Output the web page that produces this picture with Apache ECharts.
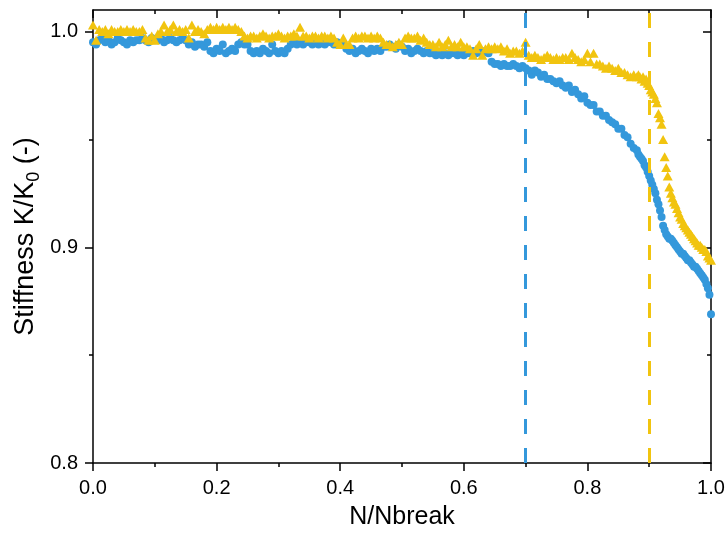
<!DOCTYPE html>
<html>
<head>
<meta charset="utf-8">
<script src="https://cdn.jsdelivr.net/npm/echarts@6/dist/echarts.min.js"></script>
<style>
  html, body { margin: 0; padding: 0; background: #fff; }
  #chart { width: 725px; height: 536px; }
</style>
</head>
<body>
<div id="chart"></div>
<script>
// N/Nbreak positions of the measurements
const ratio = [
  0, 0.005, 0.01, 0.015, 0.02, 0.025, 0.03, 0.035, 0.04, 0.045,
  0.05, 0.055, 0.06, 0.065, 0.07, 0.075, 0.08, 0.085, 0.09, 0.095,
  0.1, 0.105, 0.11, 0.115, 0.12, 0.125, 0.13, 0.135, 0.14, 0.145,
  0.15, 0.155, 0.16, 0.165, 0.17, 0.175, 0.18, 0.185, 0.19, 0.195,
  0.2, 0.205, 0.21, 0.215, 0.22, 0.225, 0.23, 0.235, 0.24, 0.245,
  0.25, 0.255, 0.26, 0.265, 0.27, 0.275, 0.28, 0.285, 0.29, 0.295,
  0.3, 0.305, 0.31, 0.315, 0.32, 0.325, 0.33, 0.335, 0.34, 0.345,
  0.35, 0.355, 0.36, 0.365, 0.37, 0.375, 0.38, 0.385, 0.39, 0.395,
  0.4, 0.405, 0.41, 0.415, 0.42, 0.425, 0.43, 0.435, 0.44, 0.445,
  0.45, 0.455, 0.46, 0.465, 0.47, 0.475, 0.48, 0.485, 0.49, 0.495,
  0.5, 0.505, 0.51, 0.515, 0.52, 0.525, 0.53, 0.535, 0.54, 0.545,
  0.55, 0.555, 0.56, 0.565, 0.57, 0.575, 0.58, 0.585, 0.59, 0.595,
  0.6, 0.605, 0.61, 0.615, 0.62, 0.625, 0.63, 0.635, 0.64, 0.645,
  0.65, 0.655, 0.66, 0.665, 0.67, 0.675, 0.68, 0.685, 0.69, 0.695,
  0.7, 0.705, 0.71, 0.715, 0.72, 0.725, 0.73, 0.735, 0.74, 0.745,
  0.75, 0.755, 0.76, 0.765, 0.77, 0.775, 0.78, 0.785, 0.79, 0.795,
  0.8, 0.805, 0.81, 0.815, 0.82, 0.825, 0.83, 0.835, 0.84, 0.845,
  0.85, 0.855, 0.86, 0.865, 0.87, 0.875, 0.88,
  0.8825, 0.885, 0.8875, 0.89, 0.8925, 0.895, 0.8975, 0.9,
  0.9025, 0.905, 0.9075, 0.91, 0.9125, 0.915, 0.9175, 0.92,
  0.9225, 0.925, 0.9275, 0.93, 0.9325, 0.935, 0.9375, 0.94,
  0.9425, 0.945, 0.9475, 0.95, 0.9525, 0.955, 0.9575, 0.96,
  0.9625, 0.965, 0.9675, 0.97, 0.9725, 0.975, 0.9775, 0.98,
  0.9825, 0.985, 0.9875, 0.99, 0.9925, 0.995, 0.9975, 1.0
];

// Stiffness K/K0 – blue circles
const stiffnessBlue = [
  0.995, 0.994, 0.996, 0.997, 0.995, 0.996, 0.994, 0.995, 0.997, 0.996, 0.995, 0.994, 0.996, 0.995, 0.996,
  0.996, 0.997, 0.996, 0.995, 0.997, 0.996, 0.996, 0.997, 0.995, 0.996, 0.997, 0.996, 0.995, 0.996, 0.997, 0.996,
  0.994, 0.995, 0.993, 0.994, 0.994, 0.993, 0.995,
  0.991, 0.990, 0.992, 0.991, 0.994, 0.990, 0.991, 0.992, 0.991,
  0.994, 0.995, 0.994,
  0.994, 0.991, 0.990, 0.991, 0.990, 0.992, 0.991, 0.990, 0.994, 0.991, 0.990, 0.991, 0.990, 0.992, 0.994,
  0.995, 0.994, 0.995, 0.994, 0.995, 0.995, 0.994, 0.995, 0.994, 0.995, 0.994, 0.995, 0.995, 0.994, 0.995, 0.994, 0.994,
  0.992, 0.991, 0.992, 0.990, 0.991, 0.992, 0.991, 0.990, 0.992, 0.991, 0.992, 0.991, 0.993,
  0.993, 0.994, 0.993, 0.992, 0.994, 0.993,
  0.991, 0.992, 0.990, 0.991, 0.992, 0.991, 0.990, 0.991, 0.990,
  0.990, 0.989, 0.990, 0.989, 0.990, 0.989, 0.990, 0.990, 0.989, 0.990, 0.989, 0.990, 0.990,
  0.991, 0.990, 0.991, 0.990, 0.991, 0.990,
  0.986, 0.985, 0.985, 0.984, 0.985, 0.984, 0.984, 0.985, 0.984, 0.983, 0.984, 0.983,
  0.982, 0.980, 0.982, 0.981, 0.979, 0.980, 0.978, 0.978, 0.977, 0.976,
  0.977, 0.975, 0.974, 0.975, 0.972, 0.973, 0.971, 0.969, 0.970, 0.967,
  0.966, 0.966, 0.963, 0.963, 0.961, 0.961, 0.959, 0.958, 0.957, 0.955,
  0.955, 0.952, 0.951, 0.948, 0.946, 0.945,
  0.943, 0.942, 0.941, 0.940, 0.938, 0.937, 0.935, 0.933,
  0.931, 0.929, 0.927, 0.925, 0.922, 0.920, 0.917, 0.914,
  0.910, 0.908, 0.906, 0.905, 0.904, 0.904, 0.903, 0.902,
  0.901, 0.900, 0.899, 0.898, 0.897, 0.897, 0.896, 0.895,
  0.894, 0.894, 0.893, 0.892, 0.891, 0.891, 0.890, 0.889,
  0.888, 0.887, 0.886, 0.885, 0.883, 0.881, 0.878, 0.869
];

// Stiffness K/K0 – yellow triangles
const stiffnessYellow = [
  1.003, 0.996, 1.001, 1.000, 1.001, 0.999, 1.001, 1.000, 1.000, 1.001, 1.000, 1.001, 1.000, 1.001, 1.000,
  1.000, 1.001, 0.997, 0.996, 0.998, 0.996, 0.999, 1.000, 1.003, 1.000, 1.001, 1.003, 1.000, 1.001, 1.000, 1.001,
  0.997, 1.003, 1.000, 1.001, 1.000, 0.999, 1.001, 1.002, 1.001, 1.002, 1.001, 1.002, 1.001, 1.002, 1.001, 1.002, 1.001, 1.000,
  0.998, 0.997, 0.998, 0.998, 0.997, 0.998, 0.999, 0.998, 0.997, 0.998, 0.998, 0.999, 0.998, 0.997, 0.998, 0.998, 0.999, 0.998, 1.002, 0.998,
  0.998, 0.997, 0.998, 0.998, 0.997, 0.998, 0.998, 0.997, 0.998, 0.997, 0.995, 0.994, 0.997, 0.994,
  0.994, 0.997, 0.998, 0.997, 0.998, 0.998, 0.997, 0.998, 0.997, 0.998, 0.997, 0.995, 0.994,
  0.994, 0.993, 0.994, 0.995, 0.994,
  0.997, 0.998, 0.997, 0.997, 0.998, 0.996, 0.997, 0.995, 0.994,
  0.994, 0.993, 0.995, 0.993, 0.994, 0.996, 0.993, 0.994, 0.993, 0.995, 0.993,
  0.993, 0.992, 0.989, 0.992, 0.994, 0.989, 0.992, 0.993, 0.992, 0.993, 0.992, 0.993,
  0.991, 0.992, 0.990, 0.991, 0.991, 0.990, 0.991, 0.995,
  0.989, 0.988, 0.989, 0.988, 0.987, 0.988, 0.989, 0.988, 0.987, 0.988, 0.987, 0.988, 0.988, 0.987, 0.990, 0.988,
  0.987, 0.986, 0.987, 0.990, 0.986, 0.990, 0.985, 0.985, 0.984, 0.983, 0.984, 0.983, 0.982, 0.983, 0.981,
  0.981, 0.980, 0.979, 0.980, 0.979,
  0.980, 0.979, 0.978, 0.979, 0.977, 0.978, 0.976, 0.975,
  0.973, 0.972, 0.971, 0.969, 0.967, 0.962, 0.960, 0.957,
  0.950, 0.942, 0.937, 0.933, 0.928, 0.925, 0.923, 0.921,
  0.920, 0.918, 0.916, 0.914, 0.913, 0.911, 0.910, 0.909,
  0.908, 0.907, 0.906, 0.905, 0.904, 0.903, 0.902, 0.901,
  0.901, 0.900, 0.899, 0.899, 0.898, 0.896, 0.895, 0.894
];

// vertical reference lines (N/Nbreak)
const blueThreshold = 0.7;
const yellowThreshold = 0.9;

// axis ticks
const xMin = 0, xMax = 1.0, xStep = 0.2;
const yMin = 0.8, yMax = 1.01;
const yMajorTicks = [0.8, 0.9, 1.0];
const yMinorTicks = [0.85, 0.95];

const BLUE = '#3498db';
const YELLOW = '#f1c40f';
const FONT = '"Liberation Sans", Arial, sans-serif';
const axisLineStyle = { color: '#000', width: 1.5 };

function pairs(xs, ys) { return xs.map((x, i) => [x, ys[i]]); }

const chart = echarts.init(document.getElementById('chart'), null, { renderer: 'canvas' });

const xBase = {
  type: 'value', min: xMin, max: xMax, interval: xStep,
  splitLine: { show: false },
  axisLine: { show: true, onZero: false, lineStyle: axisLineStyle },
  minorTick: { show: true, splitNumber: 2, length: 4, lineStyle: axisLineStyle },
  minorSplitLine: { show: false }
};
const yBase = {
  type: 'value', min: yMin, max: yMax,
  splitLine: { show: false }
};

chart.setOption({
  animation: false,
  backgroundColor: '#fff',
  textStyle: { fontFamily: FONT },
  grid: { left: 93, right: 14, top: 10, bottom: 73, containLabel: false, outerBoundsMode: 'none' },
  xAxis: [
    Object.assign({}, xBase, {
      position: 'bottom',
      axisTick: { show: true, inside: false, length: 8, lineStyle: axisLineStyle },
      axisLabel: { show: true, fontSize: 20, color: '#000', margin: 15, fontFamily: FONT,
                   formatter: v => v.toFixed(1) },
      name: 'N/Nbreak', nameLocation: 'middle', nameGap: 42,
      nameTextStyle: { fontSize: 25, color: '#000', fontFamily: FONT }
    }),
    Object.assign({}, xBase, {
      position: 'top',
      axisTick: { show: true, inside: true, length: 8, lineStyle: axisLineStyle },
      axisLabel: { show: false }
    })
  ],
  yAxis: [
    Object.assign({}, yBase, {
      position: 'left',
      axisLine: { show: true, onZero: false, lineStyle: axisLineStyle },
      axisTick: { show: true, inside: false, length: 8, customValues: yMajorTicks, lineStyle: axisLineStyle },
      axisLabel: { show: true, customValues: yMajorTicks, fontSize: 20, color: '#000', margin: 15,
                   fontFamily: FONT, formatter: v => v.toFixed(1) },
      name: 'Stiffness K/K{sub|0} (-)', nameLocation: 'middle', nameGap: 50, nameRotate: 90,
      nameMoveOverlap: false,
      nameTextStyle: { fontSize: 27, color: '#000', fontFamily: FONT, lineHeight: 35,
        rich: { sub: { fontSize: 18, lineHeight: 18, verticalAlign: 'bottom', color: '#000', fontFamily: FONT } } }
    }),
    Object.assign({}, yBase, {
      position: 'left',
      axisLine: { show: false, onZero: false },
      axisTick: { show: true, inside: false, length: 4, customValues: yMinorTicks, lineStyle: axisLineStyle },
      axisLabel: { show: false }
    }),
    Object.assign({}, yBase, {
      position: 'right',
      axisLine: { show: true, onZero: false, lineStyle: axisLineStyle },
      axisTick: { show: true, inside: true, length: 8, customValues: yMajorTicks, lineStyle: axisLineStyle },
      axisLabel: { show: false }
    }),
    Object.assign({}, yBase, {
      position: 'right',
      axisLine: { show: false, onZero: false },
      axisTick: { show: true, inside: true, length: 4, customValues: yMinorTicks, lineStyle: axisLineStyle },
      axisLabel: { show: false }
    })
  ],
  series: [
    {
      type: 'scatter', xAxisIndex: 0, yAxisIndex: 0,
      data: pairs(ratio, stiffnessBlue),
      symbol: 'circle', symbolSize: 8,
      itemStyle: { color: BLUE, opacity: 1 },
      emphasis: { disabled: true },
      z: 2
    },
    {
      type: 'scatter', xAxisIndex: 0, yAxisIndex: 0,
      data: pairs(ratio, stiffnessYellow),
      symbol: 'triangle', symbolSize: [10, 9],
      itemStyle: { color: YELLOW, opacity: 1 },
      emphasis: { disabled: true },
      z: 3
    },
    {
      type: 'line', xAxisIndex: 0, yAxisIndex: 0, data: [], z: 4,
      markLine: {
        silent: true, symbol: ['none', 'none'], label: { show: false },
        lineStyle: { color: BLUE, width: 3, type: [15, 14] },
        emphasis: { disabled: true },
        data: [{ xAxis: blueThreshold }]
      }
    },
    {
      type: 'line', xAxisIndex: 0, yAxisIndex: 0, data: [], z: 4,
      markLine: {
        silent: true, symbol: ['none', 'none'], label: { show: false },
        lineStyle: { color: YELLOW, width: 3, type: [15, 14] },
        emphasis: { disabled: true },
        data: [{ xAxis: yellowThreshold }]
      }
    }
  ]
});
</script>
</body>
</html>
